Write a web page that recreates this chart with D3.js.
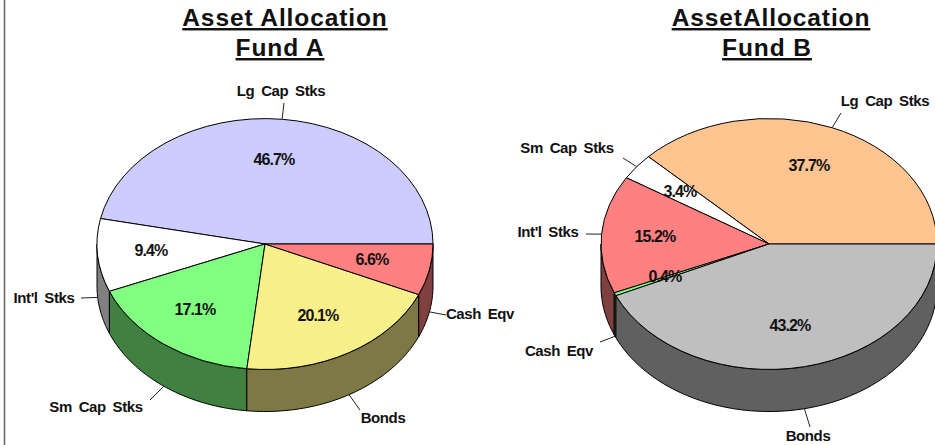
<!DOCTYPE html>
<html>
<head>
<meta charset="utf-8">
<script src="https://cdnjs.cloudflare.com/ajax/libs/d3/7.8.5/d3.min.js"></script>
<style>
  html, body { margin: 0; background: #fff; overflow: hidden; }
  text { font-family: "Liberation Sans", Arial, sans-serif; font-weight: bold; fill: #111; text-anchor: middle; }
  .chart-title { font-size: 24.5px; letter-spacing: 0.9px; text-decoration: underline; }
  .slice-label { font-size: 15px; word-spacing: 3px; letter-spacing: -0.4px; }
  .pct-label { font-size: 16px; letter-spacing: -0.9px; }
</style>
</head>
<body>
<svg id="chart" width="935" height="445"></svg>
<script>
// values, counter-clockwise from 3 o'clock
const categoriesA = ["Lg Cap Stks", "Int'l Stks", "Sm Cap Stks", "Bonds", "Cash Eqv"];
const valuesA = [46.7, 9.4, 17.1, 20.1, 6.6];
const colorsA = ["#ccccff", "#ffffff", "#80ff80", "#f9ef8a", "#ff8080"];

const categoriesB = ["Lg Cap Stks", "Sm Cap Stks", "Int'l Stks", "Cash Eqv", "Bonds"];
const valuesB = [37.7, 3.4, 15.2, 0.4, 43.2];
const colorsB = ["#ffc48f", "#ffffff", "#ff8080", "#80ff80", "#bfbfbf"];

const titlesA = ["Asset Allocation", "Fund A"];
const titlesB = ["AssetAllocation", "Fund B"];

// label placement, by slice: [x, y] of text centre
const titleXA = [285, 280];
const pctPosA = [[274, 165], [151, 256], [195, 315], [318, 321], [372, 265]];
const namePosA = [[281, 96], [44, 303], [96, 412], [383, 423], [480, 319]];
const leaderEndA = [[284, 103], [81, 298], [150, 400], [360, 410], [446, 315]];

const titleXB = [771, 767];
const pctPosB = [[809, 171], [680, 197], [655, 242], [665, 282], [790, 331]];
const namePosB = [[885, 106], [567, 153], [548, 237], [559, 356], [808, 441]];
const leaderEndB = [[841, 113], [623, 158], [586, 234], [600, 342], [810, 427]];

const rx = 168;
const ry = 125.5;
const depth = 42;
const cy = 244;

const svg = d3.select("#chart");

// frame edge on the left
svg.append("line")
  .attr("x1", 4.5).attr("x2", 4.5)
  .attr("y1", 0).attr("y2", 445)
  .attr("stroke", "#666")
  .attr("stroke-width", 1.5);

function wallColor(c) {
  // side of the pie is the top colour at half brightness
  const rgb = d3.rgb(c);
  return d3.rgb(rgb.r / 2, rgb.g / 2, rgb.b / 2).formatHex();
}

function drawPie(cx, titleX, titles, categories, values, colors, pctPos, namePos, leaderEnd) {
  const x = d3.scaleLinear().domain([-1, 1]).range([cx - rx, cx + rx]);
  const y = d3.scaleLinear().domain([-1, 1]).range([cy + ry, cy - ry]);

  // d3 angles run clockwise from 12 o'clock, so sweep backwards from 3 o'clock
  const pie = d3.pie().sort(null)
    .startAngle(Math.PI / 2)
    .endAngle(Math.PI / 2 - 2 * Math.PI);
  const slices = pie(values);

  const rim = (theta, dy) => [x(Math.cos(theta)), y(Math.sin(theta)) + dy];
  const toTheta = (a) => Math.PI / 2 - a;

  // walls, only for the part of each slice in the front half
  const wallLine = d3.line();
  slices.forEach((d, i) => {
    const from = Math.max(toTheta(d.startAngle), Math.PI);
    const to = Math.min(toTheta(d.endAngle), 2 * Math.PI);
    if (to <= from) return;
    const angles = d3.range(from, to, 0.02).concat([to]);
    const top = angles.map((t) => rim(t, 0));
    const bottom = angles.map((t) => rim(t, depth)).reverse();
    svg.append("path")
      .attr("d", wallLine(top.concat(bottom)) + "Z")
      .attr("fill", wallColor(colors[i]))
      .attr("stroke", "#000")
      .attr("stroke-width", 1);
  });

  // top face, unit arc stretched to the ellipse
  const arc = d3.arc().innerRadius(0).outerRadius(1);
  svg.append("g")
    .attr("transform", `translate(${cx},${cy}) scale(${rx},${ry})`)
    .selectAll("path")
    .data(slices)
    .enter()
    .append("path")
    .attr("d", arc)
    .attr("fill", (d, i) => colors[i])
    .attr("stroke", "#000")
    .attr("stroke-width", 1)
    .attr("vector-effect", "non-scaling-stroke");

  // leader lines start from the middle of each slice's rim
  slices.forEach((d, i) => {
    const mid = toTheta((d.startAngle + d.endAngle) / 2);
    const start = rim(mid, Math.sin(mid) < 0 ? depth : 0);
    svg.append("line")
      .attr("x1", start[0]).attr("y1", start[1])
      .attr("x2", leaderEnd[i][0]).attr("y2", leaderEnd[i][1])
      .attr("stroke", "#222")
      .attr("stroke-width", 1);
  });

  svg.append("g").selectAll("text")
    .data(categories)
    .enter()
    .append("text")
    .attr("class", "slice-label")
    .attr("x", (d, i) => namePos[i][0])
    .attr("y", (d, i) => namePos[i][1])
    .text((d) => d);

  svg.append("g").selectAll("text")
    .data(values)
    .enter()
    .append("text")
    .attr("class", "pct-label")
    .attr("x", (d, i) => pctPos[i][0])
    .attr("y", (d, i) => pctPos[i][1])
    .text((d) => d.toFixed(1) + "%");

  svg.append("g").selectAll("text")
    .data(titles)
    .enter()
    .append("text")
    .attr("class", "chart-title")
    .attr("x", (d, i) => titleX[i])
    .attr("y", (d, i) => 26 + i * 30)
    .text((d) => d);
}

drawPie(265, titleXA, titlesA, categoriesA, valuesA, colorsA, pctPosA, namePosA, leaderEndA);
drawPie(769, titleXB, titlesB, categoriesB, valuesB, colorsB, pctPosB, namePosB, leaderEndB);
</script>
</body>
</html>
